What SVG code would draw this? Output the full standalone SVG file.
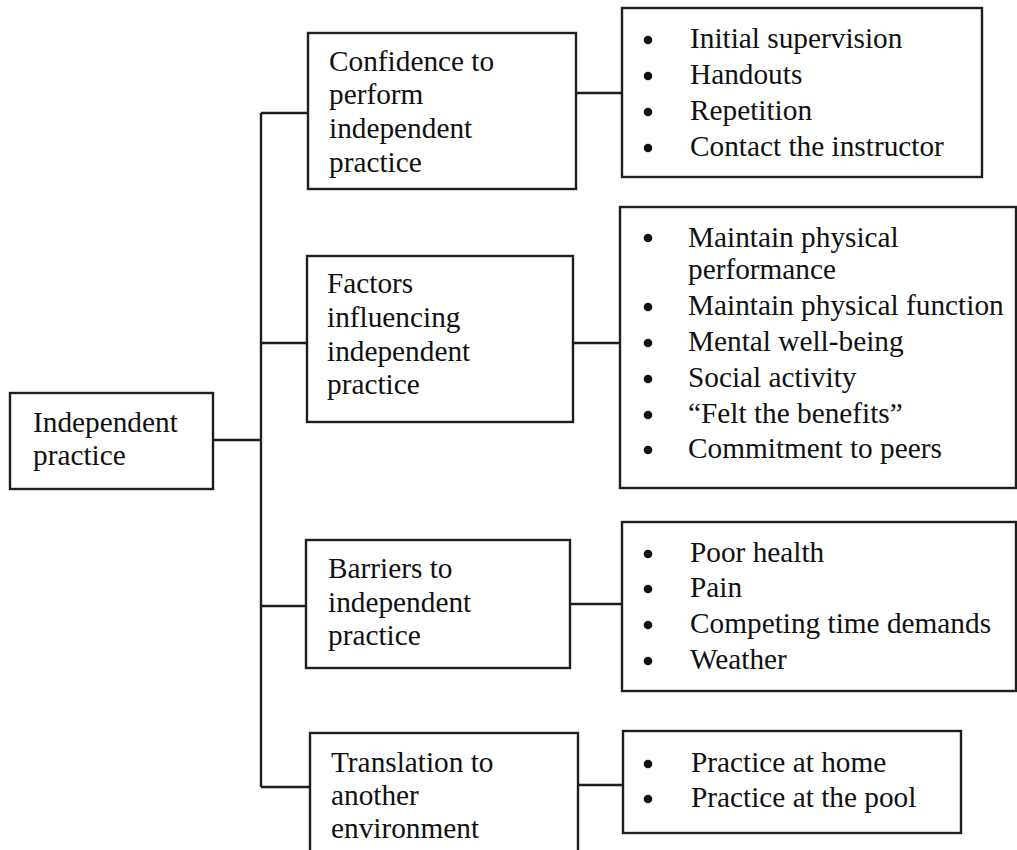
<svg xmlns="http://www.w3.org/2000/svg" width="1017" height="850" viewBox="0 0 1017 850">
<style>
.box{fill:#fff;stroke:#1e1e1e;stroke-width:2.4}
.ln{fill:none;stroke:#1e1e1e;stroke-width:2.4}
text{font-family:"Liberation Serif","Times New Roman",serif;font-size:29.3px;fill:#111}
.b{fill:#111}
</style>
<rect width="1017" height="850" fill="#fff"/>
<g id="connectors">
<path class="ln" d="M213 440H261M261 113V787M261 113H308M261 343H307M261 606H306M261 787H310"/>
<path class="ln" d="M576 93H622M573 343H620M570 604H622M578 785H623"/>
</g>
<g id="root">
<rect class="box" x="10" y="393" width="203" height="96"/>
<text x="33" y="432">Independent</text>
<text x="33" y="465">practice</text>
</g>
<g id="confidence">
<rect class="box" x="308" y="33" width="268" height="156"/>
<text x="329" y="71">Confidence to</text>
<text x="329" y="104">perform</text>
<text x="329" y="138">independent</text>
<text x="329" y="172">practice</text>
</g>
<g id="factors">
<rect class="box" x="307" y="256" width="266" height="166"/>
<text x="327" y="293">Factors</text>
<text x="327" y="327">influencing</text>
<text x="327" y="361">independent</text>
<text x="327" y="394">practice</text>
</g>
<g id="barriers">
<rect class="box" x="306" y="540" width="264" height="128"/>
<text x="328" y="578">Barriers to</text>
<text x="328" y="612">independent</text>
<text x="328" y="645">practice</text>
</g>
<g id="translation">
<rect class="box" x="310" y="733" width="268" height="130"/>
<text x="331" y="772">Translation to</text>
<text x="331" y="805">another</text>
<text x="331" y="838">environment</text>
</g>
<g id="list-confidence">
<rect class="box" x="622" y="8" width="360" height="169"/>
<circle class="b" cx="648" cy="40" r="4.3"/><text x="690" y="48">Initial supervision</text>
<circle class="b" cx="648" cy="76" r="4.3"/><text x="690" y="84">Handouts</text>
<circle class="b" cx="648" cy="112" r="4.3"/><text x="690" y="120">Repetition</text>
<circle class="b" cx="648" cy="148" r="4.3"/><text x="690" y="156">Contact the instructor</text>
</g>
<g id="list-factors">
<rect class="box" x="620" y="207" width="396" height="281"/>
<circle class="b" cx="648" cy="238" r="4.3"/><text x="688" y="247">Maintain physical</text>
<text x="688" y="279">performance</text>
<circle class="b" cx="648" cy="307" r="4.3"/><text x="688" y="315">Maintain physical function</text>
<circle class="b" cx="648" cy="343" r="4.3"/><text x="688" y="351">Mental well-being</text>
<circle class="b" cx="648" cy="379" r="4.3"/><text x="688" y="387">Social activity</text>
<circle class="b" cx="648" cy="415" r="4.3"/><text x="688" y="423">“Felt the benefits”</text>
<circle class="b" cx="648" cy="450" r="4.3"/><text x="688" y="458">Commitment to peers</text>
</g>
<g id="list-barriers">
<rect class="box" x="622" y="522" width="394" height="169"/>
<circle class="b" cx="648" cy="554" r="4.3"/><text x="690" y="562">Poor health</text>
<circle class="b" cx="648" cy="589" r="4.3"/><text x="690" y="597">Pain</text>
<circle class="b" cx="648" cy="625" r="4.3"/><text x="690" y="633">Competing time demands</text>
<circle class="b" cx="648" cy="661" r="4.3"/><text x="690" y="669">Weather</text>
</g>
<g id="list-translation">
<rect class="box" x="623" y="731" width="338" height="102"/>
<circle class="b" cx="648" cy="764" r="4.3"/><text x="691" y="772">Practice at home</text>
<circle class="b" cx="648" cy="799" r="4.3"/><text x="691" y="807">Practice at the pool</text>
</g>
</svg>
